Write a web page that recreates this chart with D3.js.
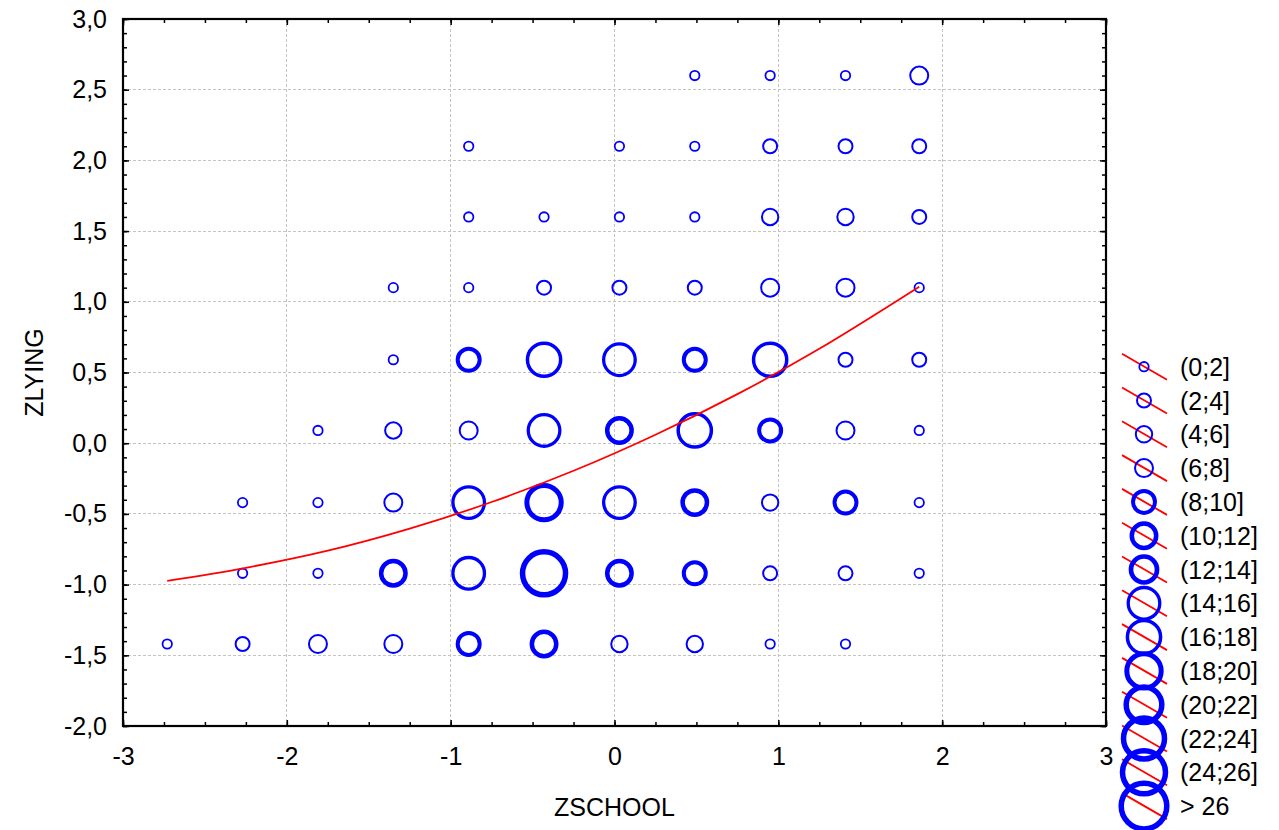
<!DOCTYPE html>
<html>
<head>
<meta charset="utf-8">
<script src="https://cdn.jsdelivr.net/npm/d3@7/dist/d3.min.js"></script>
<style>
  html, body { margin: 0; padding: 0; background: #fff; }
  svg { display: block; font-family: "Liberation Sans", Arial, sans-serif; }
</style>
</head>
<body>
<svg id="chart" width="1279" height="830"></svg>
<script>
// Frequency bubble plot: ZLYING vs ZSCHOOL with a fitted trend curve.

// Column positions (ZSCHOOL) and row positions (ZLYING) of the frequency grid
const zschool = [-2.73, -2.27, -1.81, -1.35, -0.89, -0.43, 0.03, 0.49, 0.95, 1.41, 1.86];
const zlying = [2.60, 2.10, 1.60, 1.10, 0.59, 0.09, -0.42, -0.92, -1.42];

// Number of cases in each cell, one row per ZLYING level (0 = no cases)
const frequency = [
  [0, 0, 0, 0, 0, 0, 0, 1, 1, 2, 7],
  [0, 0, 0, 0, 1, 0, 1, 2, 3, 4, 3],
  [0, 0, 0, 0, 1, 1, 2, 1, 5, 6, 3],
  [0, 0, 0, 1, 2, 4, 3, 3, 8, 7, 1],
  [0, 0, 0, 2, 10, 17, 15, 9, 17, 4, 3],
  [0, 0, 1, 5, 7, 15, 11, 18, 10, 7, 1],
  [0, 2, 1, 8, 16, 19, 15, 12, 6, 9, 2],
  [0, 1, 2, 11, 16, 25, 12, 10, 4, 3, 1],
  [1, 4, 7, 8, 10, 11, 5, 6, 2, 1, 0]
];

// Fitted trend curve, sampled along ZSCHOOL
const trendX = [-2.73, -2.25, -1.75, -1.25, -0.75, -0.25, 0.25, 0.75, 1.25, 1.86];
const trendY = [-0.973, -0.881, -0.760, -0.604, -0.416, -0.195, 0.060, 0.347, 0.668, 1.107];

// Frequency classes shown in the legend (upper bounds and labels)
const classUpper = [2, 4, 6, 8, 10, 12, 14, 16, 18, 20, 22, 24, 26];
const classLabels = ["(0;2]", "(2;4]", "(4;6]", "(6;8]", "(8;10]", "(10;12]", "(12;14]",
  "(14;16]", "(16;18]", "(18;20]", "(20;22]", "(22;24]", "(24;26]", "> 26"];

// Axis ticks
const xTicks = [-3, -2, -1, 0, 1, 2, 3];
const yTicks = [-2.0, -1.5, -1.0, -0.5, 0.0, 0.5, 1.0, 1.5, 2.0, 2.5, 3.0];

// ---- styling ----
const ringRadius = [4.7, 7, 8.2, 9, 11, 12.2, 13, 15.8, 16.6, 17.2, 17.8, 20.5, 21.5, 22.8];
const ringWidth = [1.8, 2, 2, 2, 4, 4.5, 4.7, 3.3, 3.5, 5, 5.5, 5.5, 5.5, 5.5];
const BLUE = "#0000ff", RED = "#ff0000";
const FONT = 25;

const svg = d3.select("#chart");
const plot = { left: 123, right: 1106, top: 19, bottom: 726 };

const x = d3.scaleLinear().domain([-3, 3]).range([plot.left, plot.right]);
const y = d3.scaleLinear().domain([-2, 3]).range([plot.bottom, plot.top]);

// class index for a frequency value
const classOf = v => d3.bisectLeft(classUpper, v);

const loc = d3.formatLocale({ decimal: ",", thousands: ".", grouping: [3], currency: ["", ""], minus: "-" });
const fmtY = loc.format(".1f");
const fmtX = loc.format("d");

// ---- grid ----
const grid = svg.append("g").attr("stroke", "#c4c4c4").attr("stroke-width", 1)
  .attr("stroke-dasharray", "3,2").attr("shape-rendering", "crispEdges");
grid.selectAll("line.v").data(xTicks.filter(t => t > -3 && t < 3)).join("line")
  .attr("x1", d => x(d)).attr("x2", d => x(d)).attr("y1", plot.top).attr("y2", plot.bottom);
grid.selectAll("line.h").data(yTicks.filter(t => t > -2 && t < 3)).join("line")
  .attr("y1", d => y(d)).attr("y2", d => y(d)).attr("x1", plot.left).attr("x2", plot.right);

// ---- bubbles ----
const cells = [];
zlying.forEach((yv, i) => zschool.forEach((xv, j) => {
  const n = frequency[i][j];
  if (n > 0) cells.push({ x: xv, y: yv, n });
}));
svg.append("g").selectAll("circle").data(cells).join("circle")
  .attr("cx", d => x(d.x)).attr("cy", d => y(d.y))
  .attr("r", d => ringRadius[classOf(d.n)])
  .attr("fill", "none").attr("stroke", BLUE)
  .attr("stroke-width", d => ringWidth[classOf(d.n)]);

// ---- trend curve ----
const trend = trendX.map((v, i) => [v, trendY[i]]);
svg.append("path").datum(trend)
  .attr("d", d3.line().x(d => x(d[0])).y(d => y(d[1])).curve(d3.curveCatmullRom))
  .attr("fill", "none").attr("stroke", RED).attr("stroke-width", 1.8);

// ---- axes (ticks inward on all four sides) ----
const minorX = d3.range(-12, 13).map(k => k / 4);
const minorY = d3.range(-20, 31).map(k => k / 10);

function styleAxis(g) {
  g.select(".domain").remove();
  g.selectAll(".tick line").attr("stroke", "#000").attr("stroke-width", 1.5);
  g.selectAll("text").attr("font-size", FONT).attr("fill", "#000").attr("font-family", "Liberation Sans, Arial, sans-serif");
}

// bottom
svg.append("g").attr("transform", `translate(0,${plot.bottom})`)
  .call(d3.axisBottom(x).tickValues(minorX).tickSizeInner(-4).tickSizeOuter(0).tickFormat(""))
  .call(styleAxis);
svg.append("g").attr("transform", `translate(0,${plot.bottom})`)
  .call(d3.axisBottom(x).tickValues(xTicks).tickSizeInner(-6).tickSizeOuter(0).tickPadding(21).tickFormat(fmtX))
  .call(styleAxis);
// top
svg.append("g").attr("transform", `translate(0,${plot.top})`)
  .call(d3.axisTop(x).tickValues(minorX).tickSizeInner(-4).tickSizeOuter(0).tickFormat(""))
  .call(styleAxis);
svg.append("g").attr("transform", `translate(0,${plot.top})`)
  .call(d3.axisTop(x).tickValues(xTicks).tickSizeInner(-6).tickSizeOuter(0).tickFormat(""))
  .call(styleAxis);
// left
svg.append("g").attr("transform", `translate(${plot.left},0)`)
  .call(d3.axisLeft(y).tickValues(minorY).tickSizeInner(-4).tickSizeOuter(0).tickFormat(""))
  .call(styleAxis);
svg.append("g").attr("transform", `translate(${plot.left},0)`)
  .call(d3.axisLeft(y).tickValues(yTicks).tickSizeInner(-6).tickSizeOuter(0).tickPadding(16).tickFormat(fmtY))
  .call(styleAxis);
// right
svg.append("g").attr("transform", `translate(${plot.right},0)`)
  .call(d3.axisRight(y).tickValues(minorY).tickSizeInner(-4).tickSizeOuter(0).tickFormat(""))
  .call(styleAxis);
svg.append("g").attr("transform", `translate(${plot.right},0)`)
  .call(d3.axisRight(y).tickValues(yTicks).tickSizeInner(-6).tickSizeOuter(0).tickFormat(""))
  .call(styleAxis);

// frame
svg.append("rect")
  .attr("x", plot.left).attr("y", plot.top)
  .attr("width", plot.right - plot.left).attr("height", plot.bottom - plot.top)
  .attr("fill", "none").attr("stroke", "#000").attr("stroke-width", 2.2);

// axis titles
svg.append("text").attr("x", (plot.left + plot.right) / 2).attr("y", 816)
  .attr("text-anchor", "middle").attr("font-size", FONT).text("ZSCHOOL");
svg.append("text").attr("transform", `translate(43,${(plot.top + plot.bottom) / 2}) rotate(-90)`)
  .attr("text-anchor", "middle").attr("font-size", FONT).text("ZLYING");

// ---- legend ----
const legend = svg.append("g");
const lgX = 1144, lgY0 = 366.7, lgStep = 33.8;
const items = legend.selectAll("g").data(classLabels).join("g")
  .attr("transform", (d, i) => `translate(${lgX},${lgY0 + i * lgStep})`);
items.append("line")
  .attr("x1", -22).attr("y1", -13).attr("x2", 23).attr("y2", 13)
  .attr("stroke", RED).attr("stroke-width", 1.8);
items.append("circle")
  .attr("r", (d, i) => ringRadius[i])
  .attr("fill", "none").attr("stroke", BLUE)
  .attr("stroke-width", (d, i) => ringWidth[i]);
items.append("text")
  .attr("x", 36).attr("dy", "0.36em")
  .attr("font-size", FONT).text(d => d);
</script>
</body>
</html>
